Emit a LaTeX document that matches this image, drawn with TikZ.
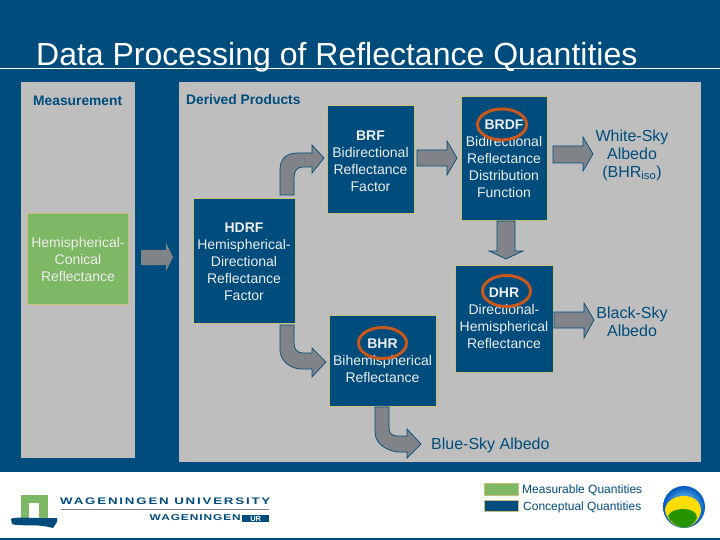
\documentclass[tikz,border=0pt]{standalone}
\usepackage{fontspec}
\setmainfont{Liberation Sans}
\definecolor{navy}{HTML}{004C7C}
\definecolor{panel}{HTML}{BEBEBE}
\definecolor{boxedge}{HTML}{C8BE78}
\definecolor{meas}{HTML}{7FB865}
\definecolor{arrowfill}{HTML}{808488}
\definecolor{ring}{HTML}{C8581C}
\definecolor{txtl}{HTML}{EDEDED}
\newcommand{\fs}[1]{\fontsize{#1}{#1}\selectfont}
\tikzset{
 x=1pt,y=-1pt,
 concept/.style={draw=boxedge,line width=1pt,fill=navy,inner sep=0pt},
 measure/.style={draw=boxedge,line width=1.2pt,fill=meas,text=txtl,align=center,inner sep=0pt,font=\fs{14}},
 boxtext/.style={text=txtl,align=center,inner sep=0pt,font=\fs{14},anchor=north},
 garrow/.style={draw=navy,line width=0.7pt,fill=arrowfill},
 ringo/.style={draw=ring,line width=3pt},
 lab/.style={text=navy,align=center,inner sep=0pt,font=\fs{16}},
 head/.style={text=navy,inner sep=0pt,font=\fs{13.8}\bfseries,anchor=west},
 legend/.style={text=navy,inner sep=0pt,font=\fs{12},anchor=west},
}
\begin{document}
\begin{tikzpicture}
\useasboundingbox (0,0) rectangle (720,540);
\fill[navy] (0,0) rectangle (720,540);
\fill[white] (0,472) rectangle (720,538);
\fill[panel] (21,82) rectangle (135,458);
\fill[panel] (179,82) rectangle (701,462);
\draw[white,line width=0.8pt] (0,68) -- (720,68);
\node[text=white,inner sep=0pt,anchor=base west,font=\fs{32}] (title) at (36,66) {Data Processing of Reflectance Quantities};
\node[head] (hm) at (33,101) {Measurement};
\node[head] (hd) at (186,100) {Derived Products};
% boxes
\node[measure,minimum width=101,minimum height=91] (hcr) at (78,259) {Hemispherical-\\[3pt]Conical\\[3pt]Reflectance};
\node[concept,minimum width=102,minimum height=124] (hdrf) at (244,261) {};
\node[concept,minimum width=87,minimum height=108] (brf) at (370.5,160) {};
\node[concept,minimum width=86,minimum height=124] (brdf) at (504,159) {};
\node[concept,minimum width=98,minimum height=107] (dhr) at (504,318.5) {};
\node[concept,minimum width=107,minimum height=91] (bhr) at (382.5,360.5) {};
% box texts
\node[boxtext] (t1) at (hdrf.north) [yshift=-24pt] {\textbf{HDRF}\\[3pt]Hemispherical-\\[3pt]Directional\\[3pt]Reflectance\\[3pt]Factor};
\node[boxtext] (t2) at (brf.north) [yshift=-25pt] {\textbf{BRF}\\[3pt]Bidirectional\\[3pt]Reflectance\\[3pt]Factor};
\node[boxtext] (t3) at (brdf.north) [yshift=-23.5pt] {\textbf{BRDF}\\[3pt]Bidirectional\\[3pt]Reflectance\\[3pt]Distribution\\[3pt]Function};
\node[boxtext] (t4) at (dhr.north) [yshift=-23pt] {\textbf{DHR}\\[3pt]Directional-\\[3pt]Hemispherical\\[3pt]Reflectance};
\node[boxtext] (t5) at (bhr.north) [yshift=-24pt] {\textbf{BHR}\\[3pt]Bihemispherical\\[3pt]Reflectance};
% rings
\draw[ringo] (502,124.5) ellipse [x radius=24.5,y radius=15.5];
\draw[ringo] (506.5,291) ellipse [x radius=24,y radius=15.5];
\draw[ringo] (382.5,343) ellipse [x radius=24,y radius=15.5];
% labels
\node[lab] (ws) at (632,155) {White-Sky\\[2pt]Albedo\\[2pt](BHR\textsubscript{iso})};
\node[lab] (bs) at (632,321.5) {Black-Sky\\[2pt]Albedo};
\node[lab,anchor=west] (blue) at (431,445) {Blue-Sky Albedo};
% straight arrows
\fill[arrowfill] (141,250) -- (166,250) -- (166,243) -- (173,257) -- (166,271) -- (166,265) -- (141,265) -- cycle;
\draw[garrow] (417,150) -- (447,150) -- (447,141) -- (457,158) -- (447,175) -- (447,166) -- (417,166) -- cycle;
\draw[garrow] (553,146) -- (583,146) -- (583,137) -- (593,154) -- (583,171) -- (583,163) -- (553,163) -- cycle;
\draw[garrow] (554,312) -- (584,312) -- (584,303) -- (594,320) -- (584,338) -- (584,328) -- (554,328) -- cycle;
\draw[garrow] (497,221) -- (515,221) -- (515,251) -- (523,251) -- (506,259) -- (489,251) -- (497,251) -- cycle;
% bent arrows
\draw[garrow] (280,195) -- (280,170) .. controls (280,158) and (287,153) .. (298,153) -- (312,153) -- (312,145) -- (324,158) -- (312,173) -- (312,167) -- (303,167) .. controls (297,167) and (294,171) .. (294,178) -- (294,195) -- cycle;
\draw[garrow] (280,325) -- (294,325) -- (294,343) .. controls (294,349) and (297,353) .. (303,353) -- (312,353) -- (312,348) -- (326,362) -- (312,377) -- (312,369) -- (300,369) .. controls (289,368) and (280,360) .. (280,350) -- cycle;
\draw[garrow] (375,407) -- (389,407) -- (389,428) .. controls (389,433) and (392,436) .. (397,436) -- (407,436) -- (407,429) -- (421,444) -- (407,458) -- (407,452) -- (397,452) .. controls (385,450) and (375,443) .. (375,432) -- cycle;
% legend
\node[draw=boxedge,line width=1pt,fill=meas,minimum width=34,minimum height=12.5,inner sep=0pt] (lg1) at (501.5,489.5) {};
\node[draw=boxedge,line width=1pt,fill=navy,minimum width=34,minimum height=11.5,inner sep=0pt] (lg2) at (501.5,506) {};
\node[legend] (l1) at (522,490) {Measurable Quantities};
\node[legend] (l2) at (523,507) {Conceptual Quantities};
% globe
\shade[inner color=cyan!35,outer color=blue!55!cyan!75!black] (684,507) circle (21);
\fill[yellow!80!orange] (684,527.5) .. controls (672,527.5) and (665,516) .. (665,509) .. controls (667,500) and (676,496) .. (684,496) .. controls (692,496) and (700,500) .. (701,510) .. controls (701,516) and (695,527.5) .. (684,527.5) -- cycle;
\fill[green!50!black!85!yellow] (684,527.5) .. controls (676,527.5) and (669,520) .. (668,516) .. controls (670,511) and (677,509) .. (683,509) .. controls (690,509) and (696,511) .. (697,517) .. controls (697,520) and (692,527.5) .. (684,527.5) -- cycle;
% logo
\fill[meas] (21,495) rectangle (48,518);
\fill[white] (29,503) rectangle (39,518);
\fill[navy] (11,519) .. controls (14,516) and (40,519) .. (57,518) -- (57,522) -- (53,528) .. controls (35,523) and (20,527) .. (12,524) -- cycle;
\node[text=navy,anchor=west,inner sep=0pt,font=\fs{9.5}\bfseries\addfontfeature{FakeStretch=1.4,LetterSpace=19}] (wu) at (60,501.5) {WAGENINGEN UNIVERSITY};
\draw[gray,line width=0.5pt] (61,509.5) -- (269,509.5);
\node[text=navy,anchor=east,inner sep=0pt,font=\fs{8.5}\bfseries\addfontfeature{FakeStretch=1.4,LetterSpace=11}] (wur) at (241,518) {WAGENINGEN};
\node[fill=navy,text=white,anchor=west,inner sep=0pt,font=\fs{7.5}\bfseries,minimum width=27,minimum height=7] (ur) at (242,518.5) {UR};
\end{tikzpicture}
\end{document}
